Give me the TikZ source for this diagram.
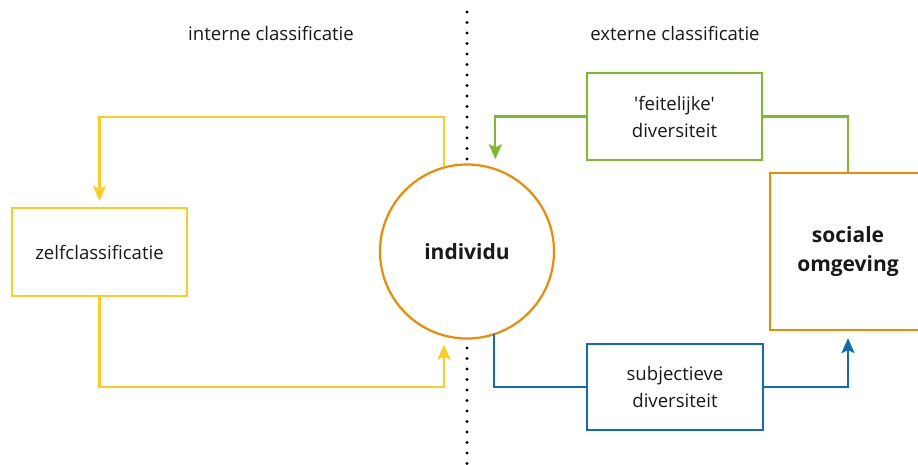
\documentclass[tikz,border=0pt]{standalone}
\usepackage{fontspec}
\setmainfont{Open Sans}
\usetikzlibrary{arrows.meta,calc}
\definecolor{cOrange}{RGB}{240,138,0}
\definecolor{cYellow}{RGB}{255,204,34}
\definecolor{cGreen}{RGB}{125,187,40}
\definecolor{cBlue}{RGB}{16,108,180}
\begin{document}
\begin{tikzpicture}[x=1pt,y=-1pt,
  txt/.style={font=\fontsize{18.6}{27}\selectfont, text=black!90, align=center, inner sep=0pt},
  boldtxt/.style={font=\fontsize{21}{29}\selectfont\bfseries, text=black!90, align=center, inner sep=0pt},
  box/.style={draw, line width=2.2pt, fill=white, rectangle, txt},
  conn/.style={line width=2.2pt, -{Stealth[length=15pt,width=13pt,inset=3pt]}},
  plainconn/.style={line width=2.2pt},
  dotline/.style={line width=3.4pt, line cap=round, dash pattern=on 0pt off 10.5pt, black}]
\useasboundingbox (0,0) rectangle (918,465);
\clip (0,0) rectangle (918,465);
\fill[white] (0,0) rectangle (918,465);
% divider
\coordinate (dtop) at (467,12);
\coordinate (dbot) at (467,470);
\draw[dotline] (dtop) -- (dbot);
% labels
\node[txt] (lint) at (271,33) {interne classificatie};
\node[txt] (lext) at (675,33) {externe classificatie};
% nodes
\node[circle, draw=cOrange, line width=2.2pt, fill=white, minimum size=174pt, inner sep=0pt, outer sep=0pt, boldtxt] (ind) at (467,251.5) {individu};
\node[box, draw=cYellow, minimum width=175pt, minimum height=88pt] (zelf) at (99.5,252) {zelfclassificatie};
\node[box, draw=cGreen, minimum width=175pt, minimum height=87pt] (feit) at (674.5,116.5) {\textquotesingle feitelijke\textquotesingle\\diversiteit};
\node[box, draw=cBlue, minimum width=176pt, minimum height=86pt] (subj) at (675,387) {subjectieve\\diversiteit};
\node[rectangle, draw=cOrange, line width=2.2pt, fill=white, minimum width=156pt, minimum height=157pt, boldtxt] (soc) at (848,251.5) {sociale\\omgeving};
% connectors
\coordinate (ytop) at (444,117);
\coordinate (ybot) at (444,387);
\draw[conn, cYellow, shorten >=6pt] (ytop |- ind.105.3) -- (ytop) -| (zelf.north);
\draw[conn, cYellow, shorten >=9.5pt] (zelf.south) |- (ybot) -- (ybot |- ind.254.7);
\draw[plainconn, cGreen] (feit.east) -| (soc.north);
\draw[conn, cGreen, shorten >=10pt] (feit.west) -| (ind.71.9);
\draw[plainconn, cBlue] (ind.288.1) |- (subj.west);
\draw[conn, cBlue, shorten >=7pt] (subj.east) -| (soc.south);
\end{tikzpicture}
\end{document}
